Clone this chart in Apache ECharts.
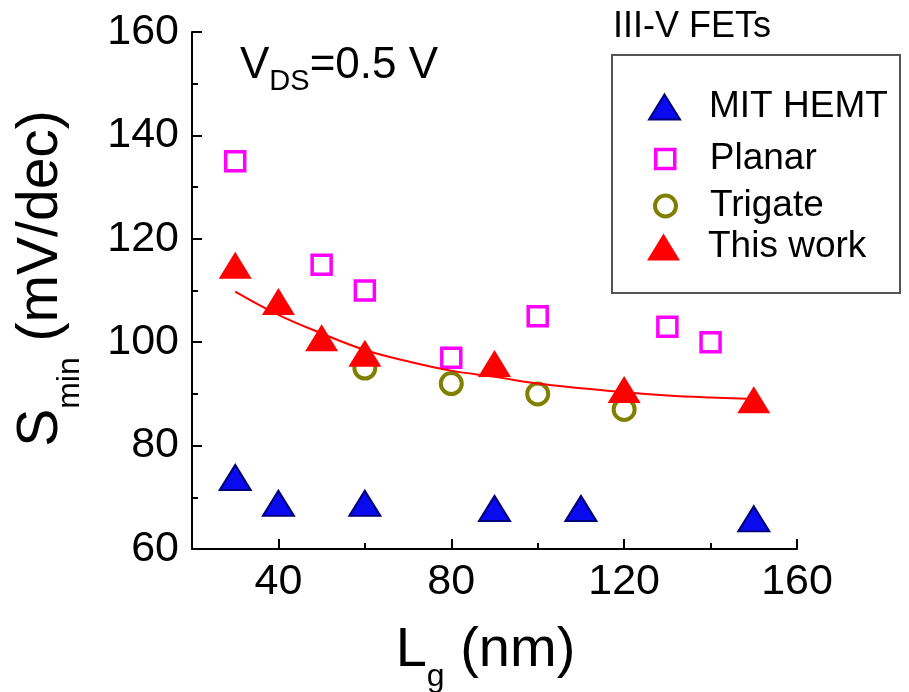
<!DOCTYPE html>
<html>
<head>
<meta charset="utf-8">
<script src="https://cdn.jsdelivr.net/npm/echarts@6/dist/echarts.min.js"></script>
<style>
  html, body { margin: 0; padding: 0; background: #fff; }
  #chart { width: 909px; height: 692px; }
</style>
</head>
<body>
<div id="chart"></div>
<script>
// Minimum subthreshold swing vs. gate length for III-V FETs at VDS = 0.5 V
const FONT = '"Liberation Sans", Arial, Helvetica, sans-serif';

const mitLg = [30, 40, 60, 90, 110, 150];
const mitS = [73, 68, 68, 67, 67, 65];
const planarLg = [30, 50, 60, 80, 100, 130, 140];
const planarS = [135, 115, 110, 97, 105, 103, 100];
const trigateLg = [60, 80, 100, 120];
const trigateS = [95, 92, 90, 87];
const thisWorkLg = [30, 40, 50, 60, 90, 120, 150];
const thisWorkS = [114, 107, 100, 97, 95, 90, 88];
// trend curve through "This work"
const fitLg = [30, 40, 50, 60, 70, 80, 90, 100, 110, 120, 130, 140, 150];
const fitS = [109.8, 105.3, 101.7, 98.5, 96.3, 94.5, 93.3, 92.0, 91.1, 90.3, 89.7, 89.3, 89.0];

const xMajorTicks = [40, 80, 120, 160];
const xMinorTicks = [60, 100, 140];
const seriesNames = ['MIT HEMT', 'Planar', 'Trigate', 'This work'];

function pairs(xs, ys) { return xs.map((x, i) => [x, ys[i]]); }

// marker styles, shared by the plot and the legend
const markerStyles = {
  'MIT HEMT': { color: '#0a0aee', borderColor: '#00007a', borderWidth: 2, opacity: 1 },
  'Planar': { color: 'rgba(255,255,255,0)', borderColor: '#ff00ff', borderWidth: 3.5, opacity: 1 },
  'Trigate': { color: 'rgba(255,255,255,0)', borderColor: '#808000', borderWidth: 4, opacity: 1 },
  'This work': { color: '#ff0000', borderColor: '#ff0000', borderWidth: 0, opacity: 1 }
};

// legend layout (one legend component per row so each icon keeps its own size)
const legendRowCenters = [101, 150, 198, 242];
const legendIconCenterX = 663.5;
const legendTextX = 708;
const legendIcons = [
  { icon: 'triangle', w: 31, h: 25 },
  { icon: 'rect', w: 19, h: 19 },
  { icon: 'circle', w: 21, h: 21 },
  { icon: 'triangle', w: 33, h: 27 }
];

const legends = seriesNames.map((name, i) => {
  const ic = legendIcons[i];
  const left = legendIconCenterX - ic.w / 2;
  return {
    data: [name],
    orient: 'vertical',
    left: left,
    top: legendRowCenters[i] - ic.h / 2,
    padding: 0,
    icon: ic.icon,
    itemWidth: ic.w,
    itemHeight: ic.h,
    selectedMode: false,
    itemStyle: markerStyles[name],
    textStyle: {
      fontFamily: FONT,
      fontSize: 37,
      color: '#000',
      padding: [0, 0, 0, legendTextX - (left + ic.w + 5)]
    }
  };
});

const axisLineStyle = { color: '#000', width: 2 };

const chart = echarts.init(document.getElementById('chart'), null, { renderer: 'canvas' });

chart.setOption({
  animation: false,
  backgroundColor: '#fff',
  grid: { left: 192, right: 112, top: 32, bottom: 143, containLabel: false, outerBoundsMode: 'none' },
  xAxis: [
    {
      type: 'value',
      position: 'bottom',
      min: 20,
      max: 160,
      interval: 20,
      axisLine: { show: true, onZero: false, lineStyle: axisLineStyle },
      axisTick: { show: true, inside: true, length: 10, customValues: xMajorTicks, lineStyle: axisLineStyle },
      axisLabel: {
        show: true, customValues: xMajorTicks, margin: 12,
        fontFamily: FONT, fontSize: 43, lineHeight: 43, color: '#000'
      },
      splitLine: { show: false },
      name: '{m|L}{s|g}{m| (nm)}',
      nameLocation: 'middle',
      nameGap: 62,
      nameTextStyle: {
        padding: [0, 18, 0, 0],
        rich: {
          m: { fontFamily: FONT, fontSize: 56, lineHeight: 58, color: '#000' },
          s: { fontFamily: FONT, fontSize: 32, lineHeight: 58, color: '#000', padding: [52, 0, 0, 0] }
        }
      }
    },
    {
      // shorter ticks halfway between labelled ones
      type: 'value',
      position: 'bottom',
      min: 20,
      max: 160,
      interval: 20,
      axisLine: { show: false, onZero: false },
      axisTick: { show: true, inside: true, length: 6, customValues: xMinorTicks, lineStyle: axisLineStyle },
      axisLabel: { show: false },
      splitLine: { show: false }
    }
  ],
  yAxis: {
    type: 'value',
    min: 60,
    max: 160,
    interval: 20,
    axisLine: { show: true, onZero: false, lineStyle: axisLineStyle },
    axisTick: { show: true, inside: true, length: 10, lineStyle: axisLineStyle },
    minorTick: { show: true, splitNumber: 2, length: 6, lineStyle: axisLineStyle },
    axisLabel: { margin: 13, fontFamily: FONT, fontSize: 43, color: '#000' },
    splitLine: { show: false },
    minorSplitLine: { show: false },
    name: '{m|S}{s|min}{m| (mV/dec)}',
    nameLocation: 'middle',
    nameRotate: 90,
    nameGap: 122,
    nameTextStyle: {
      padding: [0, 0, 0, 24],
      rich: {
        m: { fontFamily: FONT, fontSize: 57, lineHeight: 58, color: '#000' },
        s: { fontFamily: FONT, fontSize: 32, lineHeight: 58, color: '#000', padding: [58, 0, 0, 0] }
      }
    }
  },
  legend: legends,
  graphic: [
    {
      type: 'rect',
      shape: { x: 612, y: 55, width: 288, height: 238 },
      style: { fill: 'none', stroke: '#555', lineWidth: 2 },
      silent: true
    },
    {
      type: 'text',
      x: 613,
      y: 27.5,
      style: { text: 'III-V FETs', fontFamily: FONT, fontSize: 36, fill: '#000', align: 'left', verticalAlign: 'middle' },
      silent: true
    },
    {
      type: 'text',
      x: 240,
      y: 66,
      style: {
        text: '{a|V}{b|DS}{a|=0.5 V}',
        align: 'left',
        verticalAlign: 'middle',
        rich: {
          a: { fontFamily: FONT, fontSize: 44, lineHeight: 44, fill: '#000' },
          b: { fontFamily: FONT, fontSize: 29, lineHeight: 44, fill: '#000', padding: [32, 0, 0, 0] }
        }
      },
      silent: true
    }
  ],
  series: [
    {
      name: 'Planar',
      type: 'scatter',
      data: pairs(planarLg, planarS),
      symbol: 'rect',
      symbolSize: 19,
      itemStyle: markerStyles['Planar'],
      z: 2
    },
    {
      name: 'Trigate',
      type: 'scatter',
      data: pairs(trigateLg, trigateS),
      symbol: 'circle',
      symbolSize: 21,
      itemStyle: markerStyles['Trigate'],
      z: 2
    },
    {
      name: 'MIT HEMT',
      type: 'scatter',
      data: pairs(mitLg, mitS),
      symbol: 'triangle',
      symbolSize: [31, 25],
      symbolOffset: [0, -4.3],
      itemStyle: markerStyles['MIT HEMT'],
      z: 3
    },
    {
      name: 'This work',
      type: 'scatter',
      data: pairs(thisWorkLg, thisWorkS),
      symbol: 'triangle',
      symbolSize: [33, 27],
      symbolOffset: [0, -4.5],
      itemStyle: markerStyles['This work'],
      z: 4
    },
    {
      name: 'fit',
      type: 'line',
      data: pairs(fitLg, fitS),
      smooth: 0.4,
      showSymbol: false,
      symbol: 'none',
      lineStyle: { color: '#ff0000', width: 2 },
      z: 5
    }
  ]
});
</script>
</body>
</html>
